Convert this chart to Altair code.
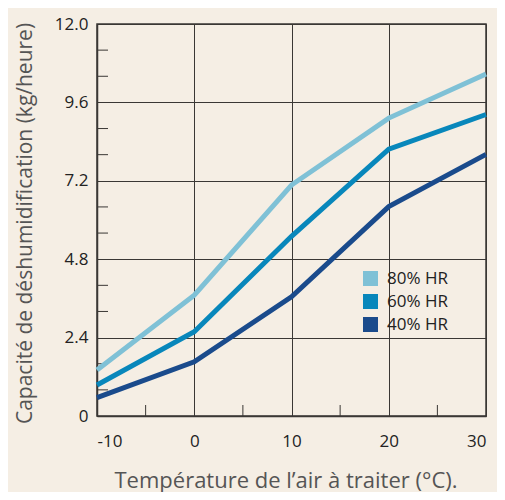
import altair as alt
import pandas as pd

temps = [-10, 0, 10, 20, 30]
hr80 = [1.41, 3.70, 7.07, 9.12, 10.47]
hr60 = [0.95, 2.58, 5.50, 8.17, 9.23]
hr40 = [0.56, 1.66, 3.65, 6.41, 8.01]
series_names = ["80% HR", "60% HR", "40% HR"]
series_colors = ["#7fc1d6", "#0887bb", "#1a4b8c"]
y_ticks = [0, 2.4, 4.8, 7.2, 9.6, 12.0]
y_minor = [0.8, 1.6, 3.2, 4.0, 5.6, 6.4, 8.0, 8.8, 10.4, 11.2]
x_ticks = [-10, 0, 10, 20, 30]
x_minor = [-5, 5, 15, 25]

rows = []
for name, vals in zip(series_names, [hr80, hr60, hr40]):
    for t, v in zip(temps, vals):
        rows.append({"t": t, "v": v, "s": name})
df = pd.DataFrame(rows)

W, H = 389, 392
FONT = "Open Sans"
GRID = "#3a3734"

xscale = alt.Scale(domain=[-10, 30], nice=False)
yscale = alt.Scale(domain=[0, 12], nice=False)
cscale = alt.Scale(domain=series_names, range=series_colors)

leg = alt.Legend(title=None, orient="none", legendX=265, legendY=246,
                 symbolType="square", symbolSize=225,
                 symbolStrokeWidth=0, symbolOpacity=1,
                 labelFontSize=17,
                 labelFont=FONT, labelColor="#222",
                 rowPadding=5, labelOffset=8)

x_enc = alt.X("t:Q", scale=xscale,
              axis=alt.Axis(values=x_ticks, title="Température de l’air à traiter (°C).",
                            grid=True, gridColor=GRID, gridOpacity=1, gridWidth=1,
                            domainColor=GRID, domainWidth=1.5, ticks=False,
                            labelPadding=17, labelFontSize=17, labelColor="#222",
                            labelFont=FONT,
                            labelExpr="datum.value < 0 ? '-' + abs(datum.value) : '' + datum.value",
                            titleFont=FONT, titleFontSize=22, titleFontWeight="normal",
                            titleColor="#555", titleBaseline="alphabetic", titleY=71,
                            titleX=W / 2 - 6))
y_enc = alt.Y("v:Q", scale=yscale,
              axis=alt.Axis(values=y_ticks, title="Capacité de déshumidification (kg/heure)",
                            grid=True, gridColor=GRID, gridOpacity=1, gridWidth=1,
                            domainColor=GRID, domainWidth=1.5, ticks=False,
                            labelPadding=9, labelFontSize=17, labelColor="#222",
                            labelFont=FONT,
                            labelExpr="datum.value == 0 ? '0' : format(datum.value, '.1f')",
                            titleFont=FONT, titleFontSize=21, titleFontWeight="normal",
                            titleColor="#555", titleX=-62, titleBaseline="bottom",
                            titleY=199))

legend_layer = alt.Chart(df).transform_filter("datum.v > 100").mark_square(
    filled=True, opacity=1, size=225).encode(
    x=x_enc, y=y_enc,
    color=alt.Color("s:N", scale=cscale, sort=series_names, legend=leg),
)

lines = alt.Chart(df).mark_line(strokeWidth=5, strokeJoin="miter").encode(
    x=x_enc, y=y_enc,
    color=alt.Color("s:N", scale=cscale, sort=series_names, legend=leg),
)

ymin = alt.Chart(pd.DataFrame({"v": y_minor})).mark_rule(color=GRID, strokeWidth=1).encode(
    y=alt.Y("v:Q", scale=yscale), x=alt.value(0), x2=alt.value(11))
xmin = alt.Chart(pd.DataFrame({"t": x_minor})).mark_rule(color=GRID, strokeWidth=1).encode(
    x=alt.X("t:Q", scale=xscale), y=alt.value(H), y2=alt.value(H - 11))

chart = alt.layer(legend_layer, ymin, xmin, lines).properties(
    width=W, height=H, background="#f5eee4",
    autosize=alt.AutoSizeParams(type="none"),
    padding={"left": 89, "top": 16, "right": 11, "bottom": 76},
).configure_view(stroke=GRID, strokeWidth=1.5)

chart.save("out.html", embed_options={"renderer": "svg", "actions": False})
